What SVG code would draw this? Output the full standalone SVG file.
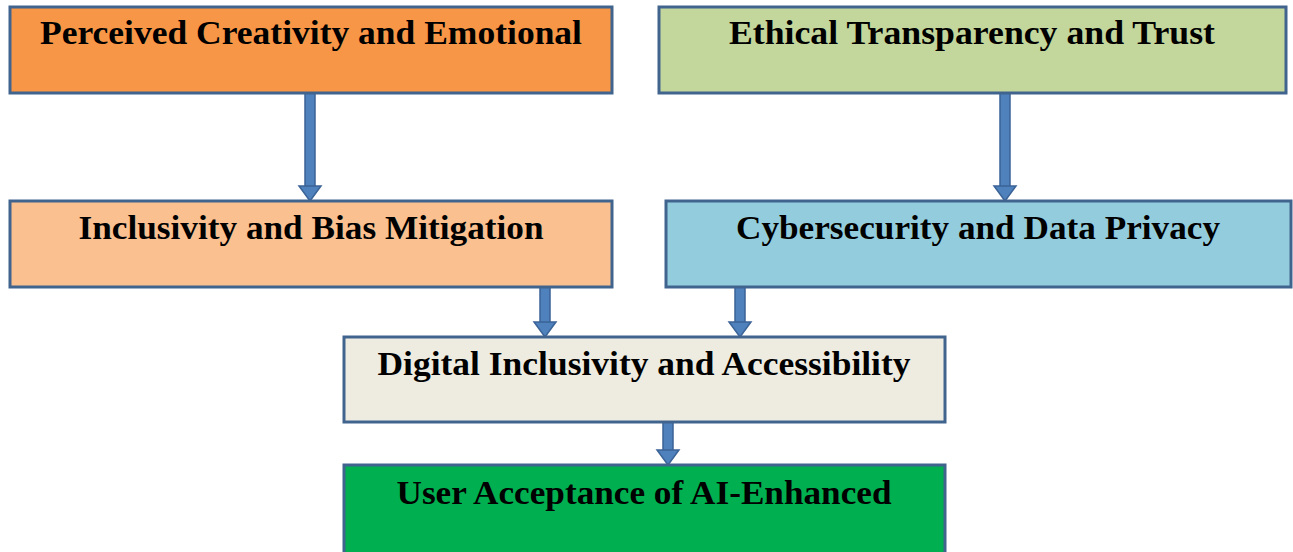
<svg xmlns="http://www.w3.org/2000/svg" width="1293" height="552" viewBox="0 0 1293 552">
  <style>
    .box { stroke: #41648f; stroke-width: 3; }
    .lbl { font-family: "Liberation Serif", "Times New Roman", serif; font-weight: bold; font-size: 34px; fill: #000; text-anchor: middle; }
    .shaft { fill: #4f81bd; stroke: #3b6396; stroke-width: 1.5; }
  </style>
  <defs>
    <!-- arrowhead of the block arrows, tip at (0,0) -->
    <path id="head" d="M-11,-15 L11,-15 L0,0 Z" fill="#4f81bd" stroke="#3b6396" stroke-width="1.5"/>
  </defs>
  <rect width="1293" height="552" fill="#ffffff"/>

  <g id="connectors">
    <rect class="shaft" x="305" y="93" width="10" height="95"/>
    <use href="#head" x="310" y="201"/>
    <rect class="shaft" x="1000" y="93" width="10" height="95"/>
    <use href="#head" x="1005" y="201"/>
    <rect class="shaft" x="540" y="287" width="10" height="37"/>
    <use href="#head" x="545" y="337"/>
    <rect class="shaft" x="735" y="287" width="10" height="37"/>
    <use href="#head" x="740" y="337"/>
    <rect class="shaft" x="663" y="422" width="10" height="30"/>
    <use href="#head" x="668" y="465"/>
  </g>

  <g id="node-creativity">
    <rect class="box" x="10" y="7" width="602" height="86" fill="#f79646"/>
    <text class="lbl" x="311" y="44" textLength="542" lengthAdjust="spacingAndGlyphs">Perceived Creativity and Emotional</text>
  </g>
  <g id="node-ethical">
    <rect class="box" x="659" y="7" width="627" height="86" fill="#c3d69b"/>
    <text class="lbl" x="972" y="44" textLength="486" lengthAdjust="spacingAndGlyphs">Ethical Transparency and Trust</text>
  </g>
  <g id="node-inclusivity">
    <rect class="box" x="10" y="201" width="602" height="86" fill="#fac090"/>
    <text class="lbl" x="311" y="239" textLength="465" lengthAdjust="spacingAndGlyphs">Inclusivity and Bias Mitigation</text>
  </g>
  <g id="node-cyber">
    <rect class="box" x="666" y="201" width="625" height="86" fill="#93cddd"/>
    <text class="lbl" x="978" y="239" textLength="484" lengthAdjust="spacingAndGlyphs">Cybersecurity and Data Privacy</text>
  </g>
  <g id="node-digital">
    <rect class="box" x="344" y="337" width="601" height="85" fill="#eeece1"/>
    <text class="lbl" x="644" y="375" textLength="533" lengthAdjust="spacingAndGlyphs">Digital Inclusivity and Accessibility</text>
  </g>
  <g id="node-acceptance">
    <rect class="box" x="344" y="465" width="601" height="90" fill="#00b050"/>
    <text class="lbl" x="644" y="504" textLength="495" lengthAdjust="spacingAndGlyphs">User Acceptance of AI-Enhanced</text>
  </g>
</svg>
